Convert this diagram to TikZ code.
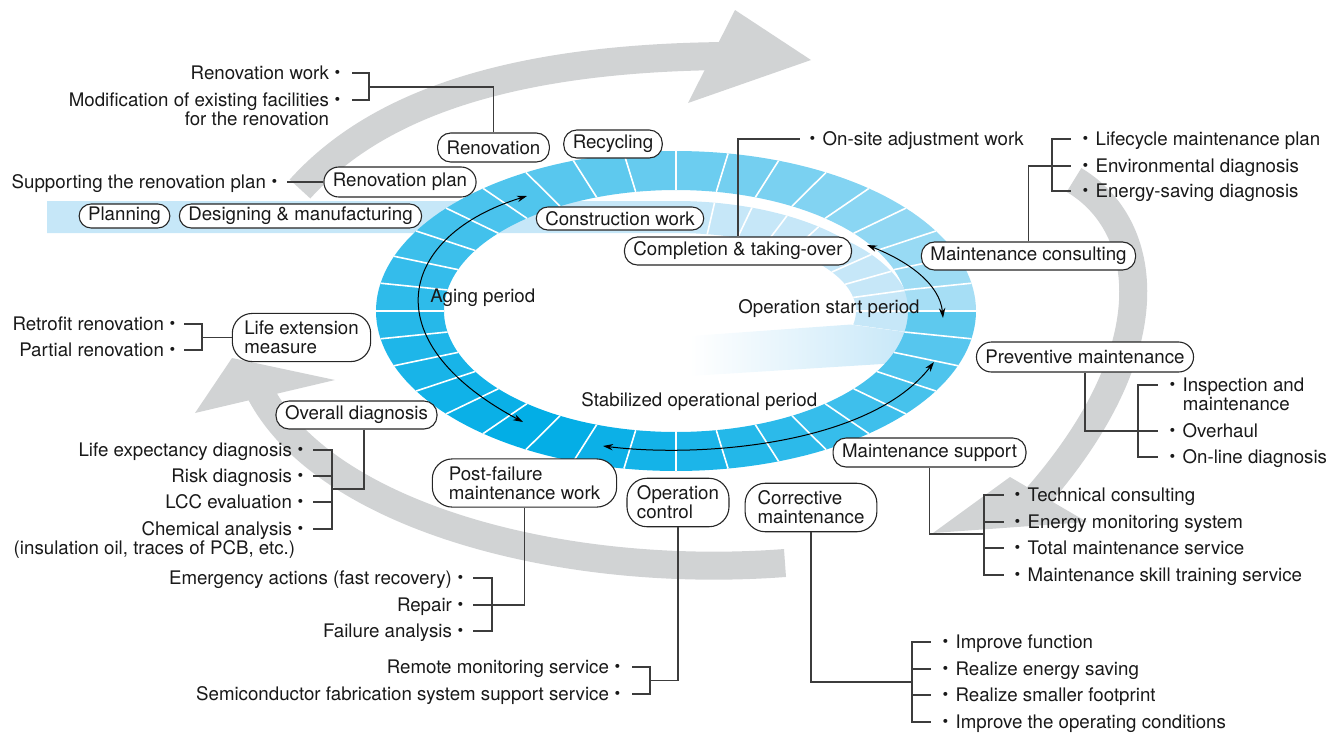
\documentclass[tikz,border=0pt]{standalone}
\usepackage{fontspec}
\setmainfont{TeX Gyre Heros}
\newfontfamily\jpfont{Noto Sans CJK JP}
\usetikzlibrary{arrows.meta}

\newcommand{\itemdot}{{\jpfont ・}}

\definecolor{cyclegray}{RGB}{209,211,212}
\definecolor{ringdark}{RGB}{0,173,230}
\definecolor{ringpale}{RGB}{200,232,248}
\definecolor{stripblue}{RGB}{198,231,248}
\definecolor{inkline}{RGB}{60,60,60}

\tikzset{
  txt/.style={font=\fontsize{9.35pt}{9.5pt}\selectfont, text=black!90},
  stage/.style={txt, draw=black!85, fill=white, line width=0.55pt, rounded corners=6.5pt,
    inner xsep=4.5pt, inner ysep=1.5pt, minimum height=13.5pt},
  stage2/.style={stage, rounded corners=10pt, align=left, inner ysep=3.8pt},
  entry/.style={txt, inner sep=0pt, text height=6.7pt, text depth=0pt},
  link/.style={draw=inkline, line width=0.6pt},
  band/.style={draw=cyclegray, line width=14pt},
  period/.style={{Stealth[length=5pt,width=3.2pt]}-{Stealth[length=5pt,width=3.2pt]}, line width=0.5pt},
  segline/.style={white, line width=0.8pt},
}

\begin{document}
\begin{tikzpicture}[x=0.5pt,y=-0.5pt]
\useasboundingbox (0,0) rectangle (1341,735);

% grey cycle arrows
\draw[band] (300,189) .. controls (380,100) and (520,58) .. (725,56);
\fill[cyclegray] (735,10) -- (811,60) -- (688,103) -- cycle;
\draw[band] (1074,180) .. controls (1150,225) and (1170,350) .. (1030,505);
\fill[cyclegray] (1010,477) -- (1087,522) -- (933,533) -- cycle;
\draw[band] (785,563) .. controls (560,580) and (320,515) .. (258,388);
\fill[cyclegray] (195,413) -- (232,358) -- (335,380) -- cycle;

% pale strip, spiralling in
\shade[left color=white, right color=stripblue] (690,336)
  -- ({676+177*cos(-10)},{311+78*sin(10)})
  -- (912,333) -- (914,362) -- (690,376) -- cycle;
\fill[stripblue] (47,201) -- (676,201)
  -- plot[domain=90:-10,samples=60] ({676+(222+0.35*max(0,40-\x))*cos(\x)},{311-(110+0.3*max(0,40-\x))*sin(\x)})
  -- plot[domain=-10:90,samples=50] ({676+180*cos(\x)},{311-78*sin(\x)})
  -- (47,233) -- cycle;
\foreach \t in {80,70,...,0}
  \draw[segline] ({676+180*cos(\t)},{311-78*sin(\t)}) -- ({676+(222+0.35*max(0,40-\t))*cos(\t)},{311-(110+0.3*max(0,40-\t))*sin(\t)});

% the ring
\foreach \i in {0,...,35}{
  \pgfmathsetmacro{\a}{-10*\i}
  \pgfmathsetmacro{\b}{-10*\i-10}
  \pgfmathtruncatemacro{\L}{(10*\i+5<120) ? (50-(10*\i+5)/120*50) : ((10*\i+5-120)/240*85)}
  \fill[ringpale!\L!ringdark]
    plot[domain=\a:\b,samples=6] ({676+300*cos(\x)},{311-160*sin(\x)})
    -- plot[domain=\b:\a,samples=6] ({676+232*cos(\x)},{311-121*sin(\x)}) -- cycle;
}
\foreach \i in {0,...,35}
  \draw[segline] ({676+232*cos(10*\i)},{311-121*sin(10*\i)}) -- ({676+300*cos(10*\i)},{311-160*sin(10*\i)});

% periods
\node[txt, inner sep=0pt, anchor=base west] (aging) at (430,302) {Aging period};
\node[txt, inner sep=0pt, anchor=base west] (opstart) at (738,313) {Operation start period};
\node[txt, inner sep=0pt, anchor=base west] (stable) at (581,406) {Stabilized operational period};
\coordinate (agetop) at (527,196);
\coordinate (agebot) at (523,422);
\coordinate (starttop) at (867,245);
\coordinate (startbot) at (943,318);
\coordinate (stableleft) at (603,446);
\coordinate (stableright) at (934,362);
\draw[period] (agetop) .. controls (400,235) and (370,340) .. (agebot);
\draw[period] (starttop) .. controls (910,262) and (940,285) .. (startbot);
\draw[period] (stableleft) .. controls (700,458) and (870,445) .. (stableright);

% stages
\node[stage, minimum height=12pt, rounded corners=6pt] (planning) at (124.5,216) {Planning};
\node[stage, minimum height=12pt, rounded corners=6pt] (design) at (300.5,216) {Designing \& manufacturing};
\node[stage, minimum height=15pt, rounded corners=7.5pt] (renplan) at (400,182) {Renovation plan};
\node[stage, minimum height=14.5pt] (renovation) at (493.5,147.5) {Renovation};
\node[stage, minimum height=14pt] (recycling) at (613,144) {Recycling};
\node[stage, minimum height=11.5pt, rounded corners=5.75pt] (construction) at (620,218.5) {Construction work};
\node[stage, minimum height=14pt] (completion) at (738,251) {Completion \& taking-over};
\node[stage, minimum height=14pt] (consulting) at (1028.5,256) {Maintenance consulting};
\node[stage, minimum height=15pt, rounded corners=7.5pt] (preventive) at (1085,357) {Preventive maintenance};
\node[stage, minimum height=14.5pt] (support) at (929.5,452.5) {Maintenance support};
\node[stage, minimum height=14pt] (overall) at (356.5,415) {Overall diagnosis};
\node[stage2, inner xsep=6pt] (lifeext) at (301.5,337.5) {Life extension\\measure};
\node[stage2, inner xsep=8.25pt] (postfail) at (524.5,483) {Post-failure\\maintenance work};
\node[stage2, inner xsep=5pt] (opcontrol) at (678,502.5) {Operation\\control};
\node[stage2, inner xsep=6.25pt] (corrective) at (811,507.5) {Corrective\\maintenance};

% left lists
\node[entry, anchor=east] (renwork) at (348,73) {Renovation work\itemdot};
\node[entry, anchor=east] (modif) at (348,100) {Modification of existing facilities\itemdot};
\node[entry, anchor=east] (modif2) at (329.5,119) {for the renovation};
\node[entry, anchor=east] (suppplan) at (285,182) {Supporting the renovation plan\itemdot};
\node[entry, anchor=east] (retrofit) at (183,324) {Retrofit renovation\itemdot};
\node[entry, anchor=east] (partial) at (183,350) {Partial renovation\itemdot};
\node[entry, anchor=east] (lifeexp) at (311,450) {Life expectancy diagnosis\itemdot};
\node[entry, anchor=east] (risk) at (311,476) {Risk diagnosis\itemdot};
\node[entry, anchor=east] (lcc) at (311,502) {LCC evaluation\itemdot};
\node[entry, anchor=east] (chem) at (311,529) {Chemical analysis\itemdot};
\node[entry, anchor=east] (chem2) at (295.5,548) {(insulation oil, traces of PCB, etc.)};
\node[entry, anchor=east] (emerg) at (471,578) {Emergency actions (fast recovery)\itemdot};
\node[entry, anchor=east] (repair) at (471,605) {Repair\itemdot};
\node[entry, anchor=east] (failan) at (471,631) {Failure analysis\itemdot};
\node[entry, anchor=east] (remote) at (628,667) {Remote monitoring service\itemdot};
\node[entry, anchor=east] (semi) at (628,694) {Semiconductor fabrication system support service\itemdot};

% right lists
\node[entry, anchor=west] (onsite) at (803.5,139) {\itemdot On-site adjustment work};
\node[entry, anchor=west] (lifecycle) at (1076.5,139) {\itemdot Lifecycle maintenance plan};
\node[entry, anchor=west] (environ) at (1076.5,166) {\itemdot Environmental diagnosis};
\node[entry, anchor=west] (energysave) at (1076.5,191) {\itemdot Energy-saving diagnosis};
\node[entry, anchor=west] (inspect) at (1163.5,385) {\itemdot Inspection and};
\node[entry, anchor=west] (inspect2) at (1182.5,404) {maintenance};
\node[entry, anchor=west] (overhaul) at (1163.5,431) {\itemdot Overhaul};
\node[entry, anchor=west] (online) at (1163.5,457) {\itemdot On-line diagnosis};
\node[entry, anchor=west] (techcons) at (1008.5,495) {\itemdot Technical consulting};
\node[entry, anchor=west] (energymon) at (1008.5,522) {\itemdot Energy monitoring system};
\node[entry, anchor=west] (totalmaint) at (1008.5,548) {\itemdot Total maintenance service};
\node[entry, anchor=west] (skill) at (1008.5,575) {\itemdot Maintenance skill training service};
\node[entry, anchor=west] (improvefn) at (936.5,642) {\itemdot Improve function};
\node[entry, anchor=west] (energysav2) at (936.5,669) {\itemdot Realize energy saving};
\node[entry, anchor=west] (footprint) at (936.5,695) {\itemdot Realize smaller footprint};
\node[entry, anchor=west] (opcond) at (936.5,722) {\itemdot Improve the operating conditions};

% brackets
\coordinate (renbr) at (369,87);
\draw[link] ([xshift=2pt]renwork.east) -| (renbr) |- ([xshift=2pt]modif.east);
\draw[link] (renovation.north) |- (renbr);
\draw[link] ([xshift=1pt]suppplan.east) -- (renplan.west);

\coordinate (lifebr) at (202,337.5);
\draw[link] ([xshift=0.5pt]retrofit.east) -| (lifebr) |- ([xshift=0.5pt]partial.east);
\draw[link] (lifeext.west) -- (lifebr);

\coordinate (diagbr) at (332,489);
\draw[link] ([xshift=1pt]lifeexp.east) -| (diagbr) |- ([xshift=1pt]chem.east);
\draw[link] ([xshift=1pt]risk.east) -- (risk.east -| diagbr);
\draw[link] ([xshift=1pt]lcc.east) -- (lcc.east -| diagbr);
\draw[link] ([xshift=3.75pt]overall.south) |- (diagbr);

\coordinate (failbr) at (492,605);
\draw[link] ([xshift=1pt]emerg.east) -| (failbr) |- ([xshift=1pt]failan.east);
\draw[link] ([xshift=1pt]repair.east) -| (postfail.south);

\coordinate (opbr) at (650,680.5);
\draw[link] ([xshift=2pt]remote.east) -| (opbr) |- ([xshift=2pt]semi.east);
\draw[link] (opcontrol.south) |- (opbr);

\coordinate (corrbr) at (912,682);
\draw[link] ([xshift=-3pt]improvefn.west) -| (corrbr) |- ([xshift=-3pt]opcond.west);
\draw[link] ([xshift=-3pt]energysav2.west) -- (energysav2.west -| corrbr);
\draw[link] ([xshift=-3pt]footprint.west) -- (footprint.west -| corrbr);
\draw[link] (corrective.south) |- (corrbr);

\coordinate (suppbr) at (984,534);
\draw[link] ([xshift=-2.5pt]techcons.west) -| (suppbr) |- ([xshift=-2.5pt]skill.west);
\draw[link] ([xshift=-2.5pt]energymon.west) -- (energymon.west -| suppbr);
\draw[link] ([xshift=-2.5pt]totalmaint.west) -- (totalmaint.west -| suppbr);
\draw[link] (support.south) |- (suppbr);

\coordinate (prevbr) at (1138,431);
\draw[link] ([xshift=-3pt]inspect.west) -| (prevbr) |- ([xshift=-3pt]online.west);
\draw[link] (preventive.south) |- ([xshift=-3pt]overhaul.west);

\coordinate (consbr) at (1052,166);
\draw[link] ([xshift=-3pt]lifecycle.west) -| (consbr) |- ([xshift=-3pt]energysave.west);
\draw[link] (consulting.north) |- ([xshift=-3pt]environ.west);

\draw[link] ([xshift=-2pt]onsite.west) -| (completion.north);
\end{tikzpicture}
\end{document}
